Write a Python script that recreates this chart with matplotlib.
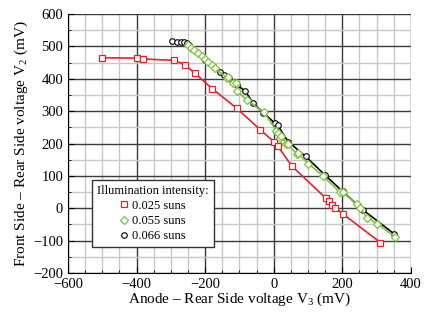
import matplotlib
matplotlib.use("Agg")
import matplotlib.pyplot as plt
from matplotlib.ticker import MultipleLocator

plt.rcParams['font.family'] = ['Liberation Serif', 'DejaVu Serif']
plt.rcParams['mathtext.fontset'] = 'custom'
plt.rcParams['mathtext.rm'] = 'Liberation Serif'

# 0.025 suns
x_red = [-500, -400, -380, -290, -259, -230, -179, -108, -39, 1, 11, 53, 152, 160, 169, 180, 201, 311]
y_red = [465, 464, 461, 457, 443, 417, 369, 309, 242, 205, 193, 130, 31, 21, 11, 1, -17, -106]

# 0.055 suns
x_green = [-251, -241, -232, -222, -210, -201, -191, -181, -171, -137, -133, -118, -110, -107, -79,
           -28, 8, 11, 18, 21, 37, 42, 67, 70, 101, 143, 193, 201, 242, 251, 273, 302, 353]
y_green = [504, 496, 489, 481, 471, 461, 453, 443, 432, 403, 405, 386, 386, 362, 335,
           296, 239, 233, 216, 224, 199, 197, 168, 170, 138, 100, 50, 50, 12, 1, -29, -48, -88]

# 0.066 suns
x_black = [-298, -283, -271, -261, -254, -246, -225, -200, -174, -157, -144, -130, -108, -84,
           -60, -30, 3, 11, 42, 93, 150, 201, 260, 352]
y_black = [517, 515, 515, 513, 510, 505, 482, 457, 437, 420, 412, 403, 381, 363,
           325, 295, 263, 257, 206, 160, 102, 52, -5, -80]

labels = ['0.025 suns', '0.055 suns', '0.066 suns']

fig = plt.figure(figsize=(4.28, 3.13), dpi=100)
ax = fig.add_axes([0.159, 0.128, 0.801, 0.827])

ax.plot(x_red, y_red, color='#e8202a', lw=1.2, marker='s', ms=4.3, mfc='white',
        mec='#e8202a', mew=0.9, label=labels[0], zorder=3)
ax.plot(x_black, y_black, color='black', lw=1.2, marker='o', ms=4.0, mfc='white',
        mec='black', mew=0.8, label=labels[2], zorder=3)
ax.plot(x_green, y_green, color='#7dc242', lw=1.2, marker='D', ms=4.2, mfc='white',
        mec='#7dc242', mew=0.9, label=labels[1], zorder=4)

ax.set_xlim(-600, 400)
ax.set_ylim(-200, 600)
ax.xaxis.set_major_locator(MultipleLocator(200))
ax.xaxis.set_minor_locator(MultipleLocator(50))
ax.yaxis.set_major_locator(MultipleLocator(100))
ax.yaxis.set_minor_locator(MultipleLocator(50))
ax.grid(which='major', color='#3a3a3a', lw=1.0)
ax.grid(which='minor', color='#c8c8c8', lw=1.0)
ax.set_axisbelow(True)
for s in ['top', 'right']:
    ax.spines[s].set_visible(False)
ax.tick_params(which='both', direction='in', labelsize=10.5)
ax.tick_params(which='major', length=4)
ax.tick_params(which='minor', length=2.5)

ax.set_xlabel(r'Anode – Rear Side voltage V$_\mathregular{3}$ (mV)', fontsize=11, labelpad=0)
ax.set_ylabel(r'Front Side – Rear Side voltage V$_\mathregular{2}$ (mV)', fontsize=11, labelpad=2)

h, l = ax.get_legend_handles_labels()
leg = ax.legend([h[0], h[2], h[1]], [l[0], l[2], l[1]], title='Illumination intensity:',
                loc='lower left', bbox_to_anchor=(0.07, 0.10), borderaxespad=0,
                fontsize=9, title_fontsize=9,
                fancybox=False, edgecolor='#333333', framealpha=1, handlelength=0.6,
                handletextpad=0.4, borderpad=0.4, labelspacing=0.25)
leg.get_frame().set_linewidth(1.0)
for line in leg.get_lines():
    line.set_linestyle('')

fig.savefig('out.png', dpi=100)
